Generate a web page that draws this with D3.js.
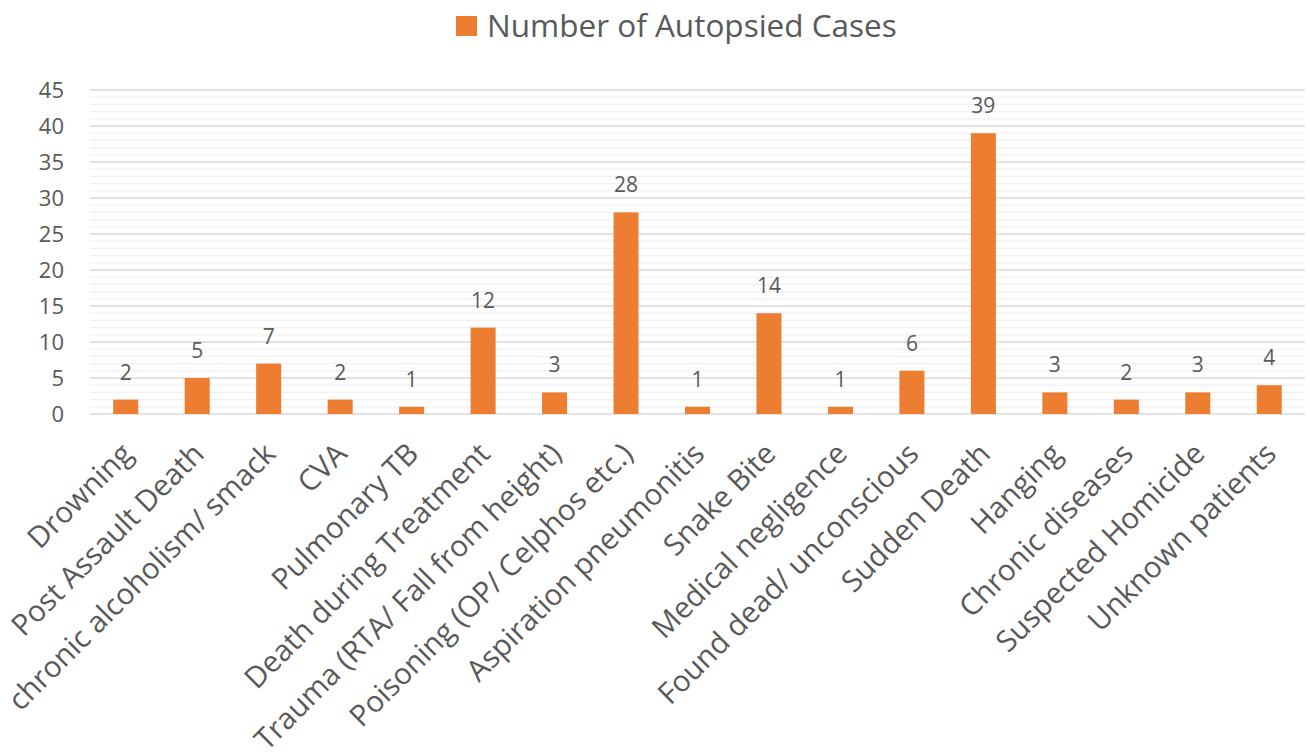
<!DOCTYPE html>
<html><head><meta charset="utf-8">
<script src="https://cdn.jsdelivr.net/npm/d3@7"></script>
<style>body{margin:0;background:#fff}svg{display:block}text{font-family:"Open Sans","Noto Sans",sans-serif;fill:#595959}</style>
</head><body><svg id="c" width="1310" height="756"></svg>
<script>
const categories = ["Drowning","Post Assault Death","chronic alcoholism/ smack","CVA","Pulmonary TB","Death during Treatment","Trauma (RTA/ Fall from height)","Poisoning (OP/ Celphos etc.)","Aspiration pneumonitis","Snake Bite","Medical negligence","Found dead/ unconscious","Sudden Death","Hanging","Chronic diseases","Suspected Homicide","Unknown patients"];
const values = [2,5,7,2,1,12,3,28,1,14,1,6,39,3,2,3,4];
const yTicks = [0,5,10,15,20,25,30,35,40,45];
const seriesName = "Number of Autopsied Cases";

const svg = d3.select("#c");
const L=90, R=1305, T=90, B=414;
const x = d3.scaleBand().domain(categories).range([L,R]).paddingInner(0.65).paddingOuter(0.325);
const y = d3.scaleLinear().domain([0,45]).range([B,T]);

// minor gridlines
svg.append("g").selectAll("line").data(d3.range(0,46).filter(v=>v%5!==0)).join("line")
  .attr("x1",L).attr("x2",R).attr("y1",d=>y(d)).attr("y2",d=>y(d))
  .attr("stroke","#f0f0f0").attr("stroke-width",1.3);
// major gridlines
svg.append("g").selectAll("line").data(yTicks).join("line")
  .attr("x1",L).attr("x2",R).attr("y1",d=>y(d)).attr("y2",d=>y(d))
  .attr("stroke","#d9d9d9").attr("stroke-width",1.3);

// y axis labels
const ya = svg.append("g").attr("transform",`translate(${L-26},0)`)
  .call(d3.axisLeft(y).tickValues(yTicks).tickSize(0).tickPadding(0));
ya.select(".domain").remove();
ya.selectAll("text").style("font-size","22px").attr("fill","#595959").style("font-family",'"Open Sans",sans-serif');

// bars
svg.append("g").selectAll("rect").data(values).join("rect")
  .attr("x",(d,i)=>x(categories[i])).attr("width",x.bandwidth())
  .attr("y",d=>y(d)).attr("height",d=>B-y(d)).attr("fill","#ED7D31");

// value labels
svg.append("g").selectAll("text").data(values).join("text")
  .attr("x",(d,i)=>x(categories[i])+x.bandwidth()/2).attr("y",d=>y(d)-20)
  .attr("text-anchor","middle").style("font-size","21px").text(d=>d);

// x labels
svg.append("g").selectAll("text").data(categories).join("text")
  .attr("transform",d=>`translate(${x(d)+x.bandwidth()/2-6},${B+27}) rotate(-45)`)
  .attr("text-anchor","end").attr("dy","0.7em").style("font-size","29.5px").text(d=>d);

// legend
const lg = svg.append("g");
lg.append("rect").attr("x",456).attr("y",16).attr("width",21).attr("height",20).attr("fill","#ED7D31");
lg.append("text").attr("x",487).attr("y",37).style("font-size","31.5px").text(seriesName);
</script></body></html>
